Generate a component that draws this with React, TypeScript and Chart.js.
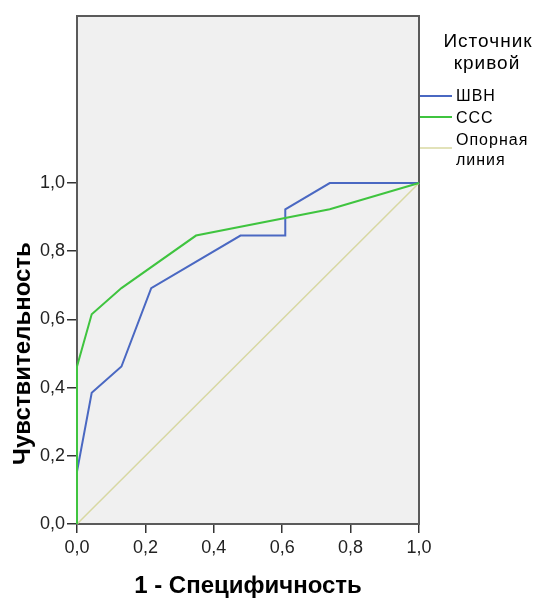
import React, { useEffect, useRef } from "react";
import { Chart, registerables } from "chart.js";

Chart.register(...registerables);

const shvnX = [0, 0, 0.043, 0.13, 0.217, 0.478, 0.609, 0.609, 0.739, 1];
const shvnY = [0, 0.154, 0.385, 0.462, 0.692, 0.846, 0.846, 0.923, 1, 1];
const cccX = [0, 0, 0.043, 0.13, 0.348, 0.739, 1];
const cccY = [0, 0.462, 0.615, 0.692, 0.846, 0.923, 1];
const refX = [0, 1];
const refY = [0, 1];
const seriesNames = ["ШВН", "ССС", "Опорная линия"];
const legendTitle = ["Источник", "кривой"];
const xTitle = "1 - Специфичность";
const yTitle = "Чувствительность";
const tickValues = [0, 0.2, 0.4, 0.6, 0.8, 1.0];

const toPts = (xs: number[], ys: number[]) => xs.map((x, i) => ({ x, y: ys[i] }));
const fmt = (v: number) => v.toFixed(1).replace(".", ",");

const FONT = "'Liberation Sans', Arial, sans-serif";

const decor = {
  id: "decor",
  beforeDraw(chart: any) {
    const { ctx, chartArea: a } = chart;
    ctx.save();
    ctx.fillStyle = "#f0f0f0";
    ctx.fillRect(a.left, a.top, a.right - a.left, a.bottom - a.top);
    ctx.restore();
  },
  beforeDatasetsDraw(chart: any) {
    const { ctx, chartArea: a } = chart;
    ctx.save();
    ctx.strokeStyle = "#5a5a5a";
    ctx.lineWidth = 2;
    ctx.strokeRect(a.left, a.top, a.right - a.left, a.bottom - a.top);
    ctx.restore();
  },
  afterDraw(chart: any) {
    const { ctx, chartArea: a } = chart;
    ctx.save();
    // axis titles
    ctx.fillStyle = "#000";
    ctx.font = `bold 24px ${FONT}`;
    ctx.textAlign = "center";
    ctx.textBaseline = "middle";
    ctx.fillText(xTitle, (a.left + a.right) / 2, 586);
    const ys = chart.scales.y;
    const yc = (ys.getPixelForValue(0) + ys.getPixelForValue(1)) / 2;
    ctx.save();
    ctx.translate(23, yc);
    ctx.rotate(-Math.PI / 2);
    ctx.fillText(yTitle, 0, 0);
    ctx.restore();

    // legend
    ctx.font = `19px ${FONT}`;
    (ctx as any).letterSpacing = "1px";
    ctx.fillStyle = "#000";
    ctx.textAlign = "center";
    ctx.fillText(legendTitle[0], 488, 42);
    ctx.fillText(legendTitle[1], 487, 64);

    const ds = chart.data.datasets;
    const rows = [
      { y: 96, lines: [seriesNames[0]], ty: [97] },
      { y: 117, lines: [seriesNames[1]], ty: [119] },
      { y: 148, lines: ["Опорная", "линия"], ty: [141, 161] },
    ];
    ctx.font = `16px ${FONT}`;
    ctx.textAlign = "left";
    rows.forEach((r, i) => {
      ctx.strokeStyle = ds[i].borderColor;
      ctx.lineWidth = i === 2 ? 1.5 : 2;
      ctx.beginPath();
      ctx.moveTo(a.right + 1, r.y);
      ctx.lineTo(452, r.y);
      ctx.stroke();
      r.lines.forEach((t, j) => ctx.fillText(t, 456, r.ty[j]));
    });
    (ctx as any).letterSpacing = "0px";
    ctx.restore();
  },
};

export default function App() {
  const ref = useRef<HTMLCanvasElement | null>(null);
  useEffect(() => {
    document.body.style.margin = "0";
    if (!ref.current) return;
    const chart = new Chart(ref.current, {
      type: "scatter",
      data: {
        datasets: [
          {
            label: seriesNames[0],
            data: toPts(shvnX, shvnY),
            showLine: true,
            borderColor: "#4a68c2",
            borderWidth: 2,
            pointRadius: 0,
            tension: 0,
            clip: 4,
            order: 2,
          },
          {
            label: seriesNames[1],
            data: toPts(cccX, cccY),
            showLine: true,
            borderColor: "#3fc43f",
            borderWidth: 2,
            pointRadius: 0,
            tension: 0,
            clip: 4,
            order: 1,
          },
          {
            label: seriesNames[2],
            data: toPts(refX, refY),
            showLine: true,
            borderColor: "#d8d8a2",
            borderWidth: 1.5,
            pointRadius: 0,
            tension: 0,
            clip: 4,
            order: 3,
          },
        ] as any,
      },
      options: {
        animation: false,
        responsive: true,
        maintainAspectRatio: false,
        layout: { padding: { top: 16, right: 117, left: 0, bottom: 0 } },
        plugins: { legend: { display: false }, tooltip: { enabled: false } },
        scales: {
          x: {
            type: "linear",
            min: 0,
            max: 1,
            afterFit: (s: any) => {
              s.height = 75;
            },
            afterBuildTicks: (s: any) => {
              s.ticks = tickValues.map((v) => ({ value: v }));
            },
            ticks: {
              callback: (v: any) => fmt(Number(v)),
              font: { family: FONT, size: 18 },
              color: "#222",
              padding: 4,
              maxRotation: 0,
            },
            grid: {
              drawOnChartArea: false,
              drawTicks: true,
              tickLength: 9,
              color: "#333",
              lineWidth: 1.5,
            },
            border: { display: false },
          },
          y: {
            type: "linear",
            min: 0,
            max: 1.49,
            afterFit: (s: any) => {
              s.width = 77;
            },
            afterBuildTicks: (s: any) => {
              s.ticks = tickValues.map((v) => ({ value: v }));
            },
            ticks: {
              callback: (v: any) => fmt(Number(v)),
              font: { family: FONT, size: 18 },
              color: "#222",
              padding: 2,
            },
            grid: {
              drawOnChartArea: false,
              drawTicks: true,
              tickLength: 10,
              color: "#333",
              lineWidth: 1.5,
            },
            border: { display: false },
          },
        },
      },
      plugins: [decor],
    });
    return () => chart.destroy();
  }, []);
  return (
    <div style={{ width: 536, height: 599, position: "relative" }}>
      <canvas ref={ref} />
    </div>
  );
}
